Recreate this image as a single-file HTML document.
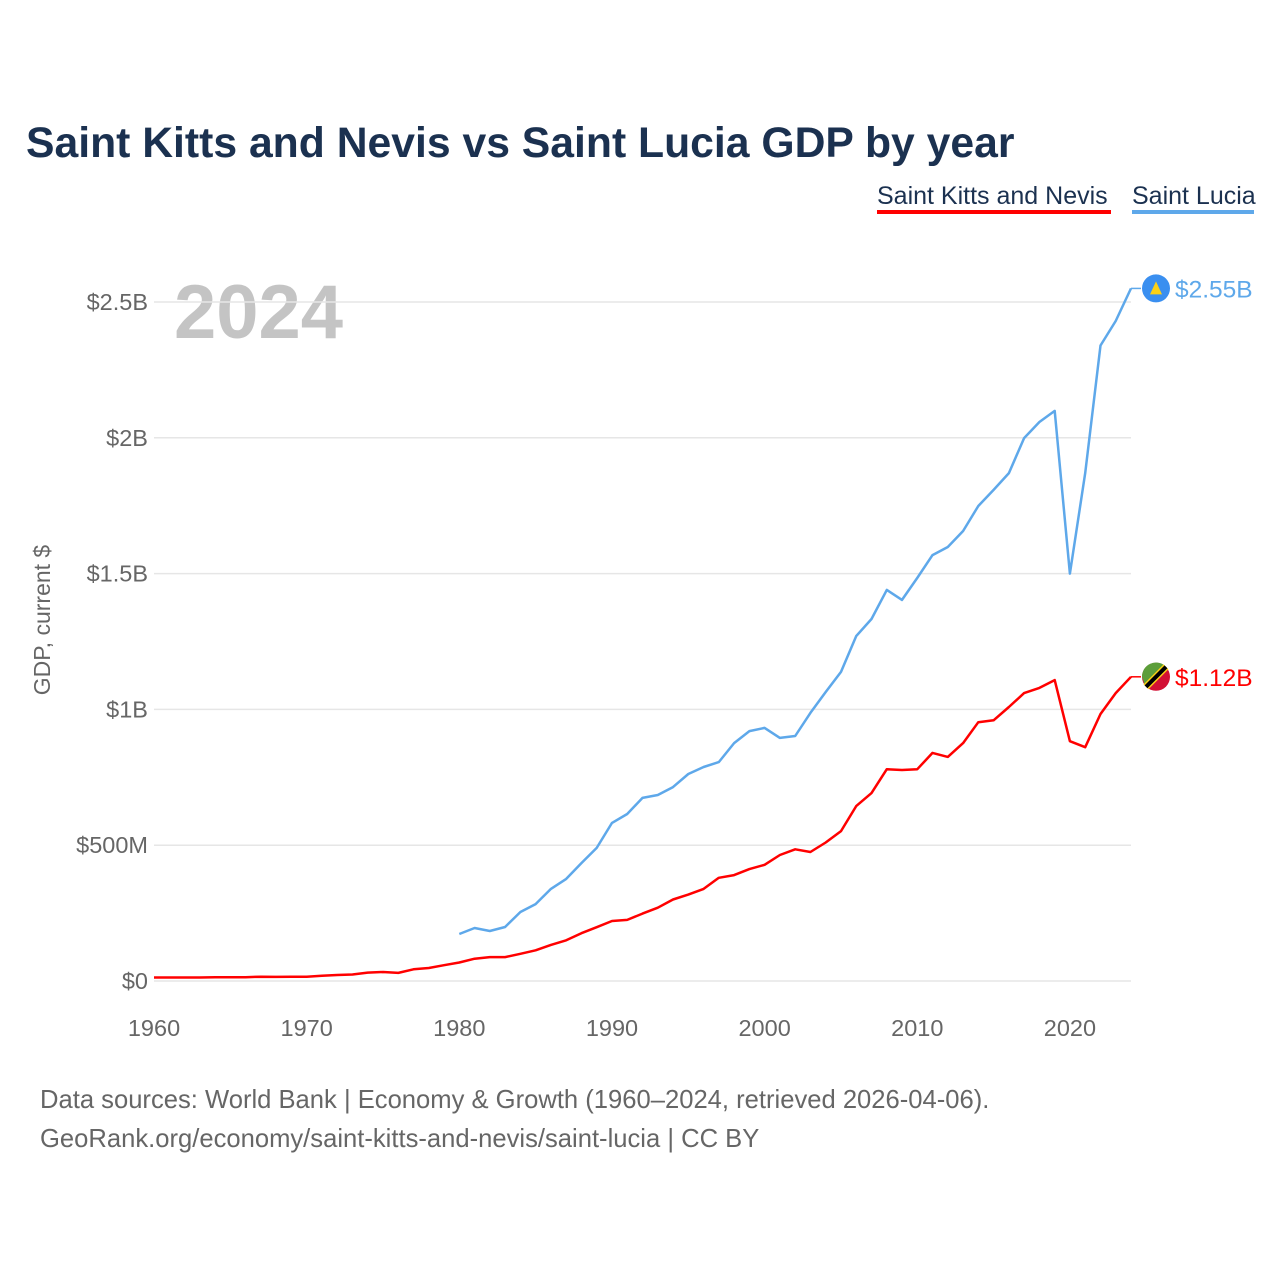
<!DOCTYPE html>
<html><head><meta charset="utf-8"><style>
body{margin:0;background:#fff;font-family:"Liberation Sans",sans-serif;}
#wrap{position:relative;width:1280px;height:1280px;overflow:hidden;}
</style></head><body>
<div id="wrap">
<svg id="svg" width="1280" height="1280">
<text x="26" y="157" font-size="42.7" font-weight="bold" fill="#1b3150">Saint Kitts and Nevis vs Saint Lucia GDP by year</text>
<g>
<text x="877" y="204" font-size="25" fill="#1b3150">Saint Kitts and Nevis</text>
<rect x="877" y="210" width="234" height="4" fill="#ff0000"/>
<text x="1132" y="204" font-size="25" fill="#1b3150">Saint Lucia</text>
<rect x="1132" y="210" width="122" height="4" fill="#5ea8ea"/>
</g>
<text x="174" y="338" font-size="76" font-weight="bold" fill="#c4c4c4">2024</text>
<text transform="translate(50,620) rotate(-90)" text-anchor="middle" font-size="23" fill="#666">GDP, current $</text>
<g id="grid"></g><g id="yt"></g><g id="xt"></g><g id="lines"></g>
<text x="40" y="1108" font-size="25.6" fill="#666">Data sources: World Bank | Economy &amp; Growth (1960–2024, retrieved 2026-04-06).</text>
<text x="40" y="1147" font-size="25.6" fill="#666">GeoRank.org/economy/saint-kitts-and-nevis/saint-lucia | CC BY</text>
</svg></div>
<script>
const yTicks=[0,0.5,1,1.5,2,2.5];
const yTickLabels=["$0","$500M","$1B","$1.5B","$2B","$2.5B"];
const xTicks=[1960,1970,1980,1990,2000,2010,2020];
const knYears=[];for(let y=1960;y<=2024;y++)knYears.push(y);
const knValues=[0.013,0.013,0.013,0.013,0.014,0.014,0.014,0.016,0.015,0.016,0.016,0.019,0.022,0.024,0.031,0.033,0.030,0.043,0.048,0.058,0.068,0.082,0.088,0.088,0.100,0.113,0.133,0.150,0.176,0.198,0.221,0.225,0.248,0.270,0.300,0.318,0.339,0.380,0.390,0.412,0.428,0.464,0.485,0.475,0.510,0.552,0.644,0.692,0.780,0.777,0.780,0.840,0.825,0.876,0.953,0.960,1.009,1.060,1.079,1.108,0.883,0.861,0.983,1.060,1.120];
const slYears=[];for(let y=1980;y<=2024;y++)slYears.push(y);
const slValues=[0.173,0.195,0.184,0.199,0.254,0.283,0.339,0.376,0.434,0.490,0.582,0.615,0.674,0.685,0.714,0.762,0.788,0.806,0.876,0.920,0.932,0.895,0.902,0.987,1.064,1.138,1.270,1.333,1.440,1.403,1.484,1.568,1.598,1.657,1.749,1.808,1.870,1.999,2.058,2.099,1.500,1.870,2.340,2.430,2.550];
const NS="http://www.w3.org/2000/svg";
const X=y=>154+(y-1960)*(1131-154)/64;
const Y=v=>981-v*271.6;
function mk(tag,attrs,parent){const e=document.createElementNS(NS,tag);for(const k in attrs)e.setAttribute(k,attrs[k]);document.getElementById(parent).appendChild(e);return e;}
yTicks.forEach((t,i)=>{
 const l=mk('line',{x1:154,x2:1131,y1:Y(t),y2:Y(t),stroke:'#e6e6e6','stroke-width':1.5},'grid');
 
 
 const tx=mk('text',{x:148,y:Y(t)+8,'text-anchor':'end','font-size':23.5,fill:'#666'},'yt');
 tx.textContent=yTickLabels[i];
 
 
});
xTicks.forEach(t=>{
 const tx=mk('text',{x:X(t),y:1036,'text-anchor':'middle','font-size':23.5,fill:'#666'},'xt');
 tx.textContent=t;
 
 
});
function series(years,vals,color,name,label,flag){
 const d=years.map((y,i)=>(i?'L':'M')+X(y).toFixed(1)+','+Y(vals[i]).toFixed(1)).join('');
 const p=mk('path',{d:d,fill:'none',stroke:color,'stroke-width':2.5,'stroke-linejoin':'round'},'lines');
 
 
 const lv=vals[vals.length-1],ly=Y(lv),lx=X(years[years.length-1]);
 mk('line',{x1:lx,x2:lx+10,y1:ly,y2:ly,stroke:color,'stroke-width':1.5},'lines');
 const c=mk('circle',{cx:lx+25,cy:ly,r:14,fill:flag},'lines');
 
 
 const t=mk('text',{x:lx+44,y:ly+9,'font-size':24.5,fill:color},'lines');
 t.textContent=label;
 
 
 return [lx+25,ly];
}
const [kx,ky]=series(knYears,knValues,'#ff0000','saint-kitts','$1.12B','#d21034');
mk('path',{d:`M${kx-14},${ky} A14,14 0 0 1 ${kx+9},${ky-11} L${kx-11},${ky+9} Z`,fill:'#5c9e3a'},'lines');
mk('line',{x1:kx-10,y1:ky+10,x2:kx+10,y2:ky-10,stroke:'#fcd116','stroke-width':7},'lines');
mk('line',{x1:kx-10,y1:ky+10,x2:kx+10,y2:ky-10,stroke:'#000','stroke-width':4},'lines');
const [sx,sy]=series(slYears,slValues,'#5ea8ea','saint-lucia','$2.55B','#3a8ff0');
mk('polygon',{points:`${sx-6},${sy+6} ${sx+6},${sy+6} ${sx},${sy-7}`,fill:'#fcd116'},'lines');
</script>
</body></html>
